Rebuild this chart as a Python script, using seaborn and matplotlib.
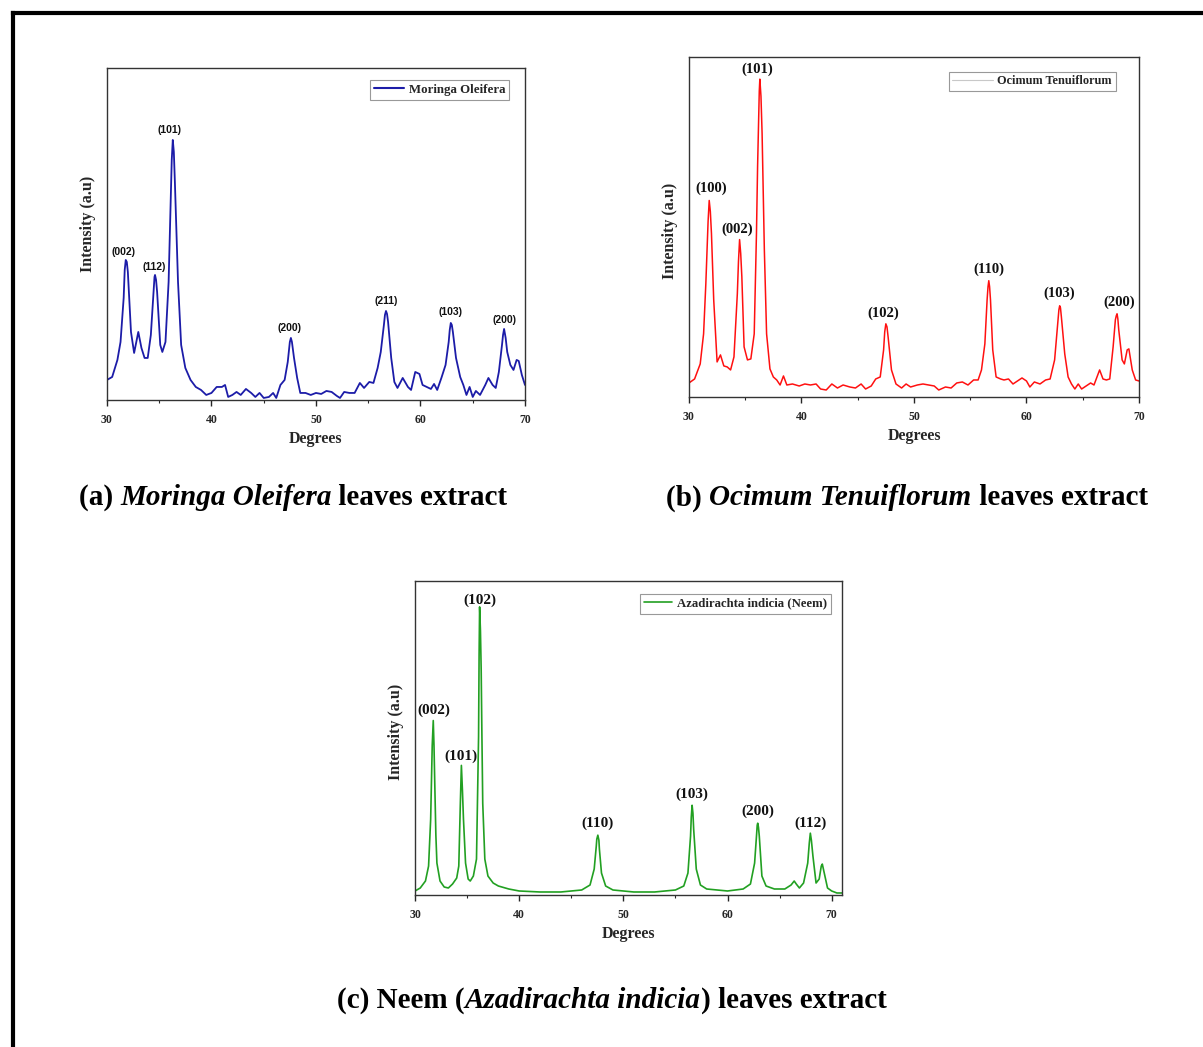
import matplotlib
matplotlib.use("Agg")
import matplotlib.pyplot as plt
import seaborn as sns
import pandas as pd
from matplotlib.lines import Line2D
from matplotlib.ticker import MultipleLocator

# ---- (a) Moringa Oleifera ----
mo_deg = [30.0, 30.5, 31.0, 31.3, 31.6, 31.7, 31.8, 31.9, 32.0, 32.3, 32.6, 33.0, 33.3, 33.6,
          33.9, 34.2, 34.5, 34.55, 34.6, 34.7, 34.8, 35.1, 35.3, 35.6, 35.9, 36.1, 36.2, 36.3,
          36.4, 36.5, 36.8, 37.1, 37.5, 38.0, 38.5, 39.0, 39.5, 40.0, 40.5, 41.0, 41.3, 41.6,
          42.0, 42.4, 42.8, 43.3, 43.8, 44.2, 44.6, 45.0, 45.5, 45.9, 46.2, 46.6, 47.0, 47.3,
          47.5, 47.6, 47.7, 47.9, 48.2, 48.5, 49.0, 49.5, 50.0, 50.5, 51.0, 51.5, 52.0, 52.3,
          52.7, 53.2, 53.7, 54.2, 54.6, 55.1, 55.5, 55.9, 56.2, 56.5, 56.6, 56.7, 56.8, 56.9,
          57.2, 57.5, 57.8, 58.3, 58.8, 59.1, 59.5, 59.9, 60.2, 60.6, 61.0, 61.3, 61.6, 62.0,
          62.4, 62.7, 62.8, 62.9, 63.0, 63.1, 63.4, 63.8, 64.1, 64.4, 64.7, 65.0, 65.3, 65.7,
          66.2, 66.5, 66.9, 67.2, 67.5, 67.8, 67.9, 68.0, 68.15, 68.3, 68.6, 68.9, 69.2, 69.4,
          69.7, 70.0]
mo_int = [20, 23, 40, 58, 102, 130, 140, 138, 128, 68, 47, 68, 52, 42,
          42, 65, 115, 123, 125, 120, 108, 55, 48, 58, 118, 202, 240, 260,
          248, 218, 118, 55, 32, 20, 13, 10, 5, 7, 13, 13, 15, 3,
          5, 8, 5, 11, 7, 3, 7, 2, 3, 7, 2, 15, 20, 38,
          58, 62, 58, 42, 22, 7, 7, 5, 7, 6, 9, 8, 4, 2,
          8, 7, 7, 17, 12, 18, 17, 32, 48, 75, 85, 89, 86, 78,
          42, 18, 12, 22, 13, 10, 28, 26, 15, 13, 11, 16, 10, 22,
          35, 58, 70, 77, 75, 68, 42, 23, 15, 5, 13, 3, 9, 5,
          15, 22, 15, 12, 28, 55, 65, 71, 62, 48, 35, 30, 40, 39,
          25, 15]
mo_peaks = ["(002)", "(112)", "(101)", "(200)", "(211)", "(103)", "(200)"]
mo_peak_deg = [31.6, 34.5, 36.0, 47.5, 56.7, 62.9, 68.0]
mo_peak_lab_y = [148, 133, 270, 72, 99, 88, 80]

# ---- (b) Ocimum Tenuiflorum ----
ot_deg = [30.0, 30.5, 31.0, 31.3, 31.5, 31.7, 31.8, 31.9, 32.0, 32.2, 32.5, 32.8, 33.1, 33.4,
          33.7, 34.0, 34.3, 34.4, 34.5, 34.6, 34.7, 34.9, 35.2, 35.5, 35.8, 36.0, 36.1, 36.2,
          36.25, 36.3, 36.4, 36.5, 36.6, 36.7, 36.9, 37.2, 37.5, 37.8, 38.1, 38.4, 38.7, 39.2,
          39.8, 40.3, 40.8, 41.3, 41.7, 42.2, 42.7, 43.2, 43.7, 44.3, 44.8, 45.3, 45.7, 46.2,
          46.6, 47.0, 47.3, 47.4, 47.5, 47.6, 47.7, 48.0, 48.4, 48.9, 49.3, 49.7, 50.3, 50.8,
          51.3, 51.8, 52.2, 52.8, 53.3, 53.8, 54.3, 54.8, 55.3, 55.7, 56.0, 56.3, 56.5, 56.58,
          56.65, 56.72, 56.8, 57.0, 57.3, 57.7, 58.0, 58.4, 58.8, 59.2, 59.6, 60.0, 60.3, 60.7,
          61.2, 61.7, 62.1, 62.5, 62.8, 62.88, 62.95, 63.02, 63.1, 63.4, 63.7, 64.0, 64.3, 64.6,
          64.9, 65.3, 65.7, 66.0, 66.3, 66.5, 66.8, 67.1, 67.4, 67.7, 67.9, 67.98, 68.05, 68.12,
          68.2, 68.5, 68.7, 68.95, 69.1, 69.4, 69.7, 70.0]
ot_int = [14, 18, 33, 63, 113, 175, 196, 185, 163, 97, 35, 42, 31, 30,
          27, 40, 103, 135, 157, 143, 120, 50, 37, 38, 63, 163, 230, 280,
          305, 317, 300, 263, 205, 147, 63, 28, 20, 17, 12, 21, 12, 13,
          11, 13, 12, 13, 8, 7, 13, 9, 12, 10, 9, 13, 8, 11,
          18, 20, 47, 65, 73, 70, 60, 27, 13, 9, 13, 10, 12, 13,
          12, 11, 7, 10, 9, 14, 15, 12, 17, 17, 27, 53, 97, 110,
          116, 110, 97, 47, 20, 18, 17, 18, 13, 16, 19, 16, 10, 15,
          13, 17, 18, 37, 77, 87, 91, 89, 80, 43, 20, 13, 8, 13,
          8, 11, 14, 12, 21, 27, 18, 17, 18, 50, 77, 81, 83, 78,
          67, 37, 33, 47, 48, 27, 17, 16]
ot_peaks = ["(100)", "(002)", "(101)", "(102)", "(110)", "(103)", "(200)"]
ot_peak_deg = [32.0, 34.3, 36.1, 47.3, 56.65, 62.95, 68.2]
ot_peak_lab_y = [208, 167, 327, 84, 127, 103, 94]

# ---- (c) Azadirachta indicia (Neem) ----
ne_deg = [30.0, 30.5, 31.0, 31.3, 31.5, 31.65, 31.75, 31.82, 31.9, 32.0, 32.1, 32.4, 32.8, 33.2,
          33.6, 34.0, 34.2, 34.35, 34.45, 34.55, 34.65, 34.85, 35.1, 35.3, 35.6, 35.9, 36.1, 36.15,
          36.2, 36.28, 36.35, 36.42, 36.5, 36.7, 37.0, 37.5, 38.0, 39.0, 40.0, 42.0, 44.0, 46.0,
          46.8, 47.2, 47.4, 47.45, 47.55, 47.65, 47.7, 47.9, 48.3, 49.0, 51.0, 53.0, 55.0, 55.8,
          56.2, 56.45, 56.52, 56.6, 56.68, 56.75, 57.0, 57.4, 58.0, 60.0, 61.5, 62.2, 62.6, 62.8,
          62.85, 62.9, 62.97, 63.05, 63.3, 63.7, 64.5, 65.5, 66.1, 66.4, 66.6, 66.9, 67.3, 67.7,
          67.85, 67.95, 68.05, 68.2, 68.5, 68.8, 69.0, 69.1, 69.35, 69.6, 70.0, 70.5, 71.0]
ne_int = [4, 7, 14, 29, 76, 150, 175, 150, 109, 60, 32, 14, 8, 7,
          11, 17, 29, 92, 130, 105, 76, 32, 16, 14, 19, 36, 159, 240,
          289, 265, 226, 160, 92, 36, 19, 12, 9, 6, 4, 3, 3, 5,
          10, 26, 49, 56, 60, 55, 46, 22, 9, 5, 3, 3, 5, 9,
          22, 59, 78, 90, 82, 66, 26, 10, 6, 4, 6, 11, 32, 62,
          70, 72, 68, 59, 19, 9, 6, 6, 10, 14, 11, 7, 12, 32,
          52, 62, 55, 39, 12, 16, 29, 31, 19, 7, 4, 2, 2]
ne_peaks = ["(002)", "(101)", "(102)", "(110)", "(103)", "(200)", "(112)"]
ne_peak_deg = [31.8, 34.4, 36.2, 47.55, 56.6, 62.9, 68.0]
ne_peak_lab_y = [185, 139, 296, 72, 101, 84, 72]

captions = [
    [("(a) ", "normal"), ("Moringa Oleifera", "italic"), (" leaves extract", "normal")],
    [("(b) ", "normal"), ("Ocimum Tenuiflorum", "italic"), (" leaves extract", "normal")],
    [("(c) Neem (", "normal"), ("Azadirachta indicia", "italic"), (") leaves extract", "normal")],
]

sns.set_style("white")
plt.rcParams["font.family"] = ["Liberation Serif", "DejaVu Serif"]

fig = plt.figure(figsize=(12.03, 10.47), dpi=100)

panels = [
    dict(rect=[0.0889, 0.6180, 0.3475, 0.3171], x=mo_deg, y=mo_int, color="#1c1ca8",
         name="Moringa Oleifera", ylim=332, xlim=70, lw=1.3, peaks=mo_peaks,
         pk_x=mo_peak_deg, pk_y=mo_peak_lab_y, pk_font="Liberation Sans", pk_size=7.5,
         leg_anchor=(0.9625, 0.964), leg_color="#1c1ca8", leg_lw=1.5, leg_size=9.3,
         hlen=2.3, ylab_y=0.53),
    dict(rect=[0.5727, 0.6208, 0.3741, 0.3247], x=ot_deg, y=ot_int, color="#ff1010",
         name="Ocimum Tenuiflorum", ylim=339, xlim=70, lw=1.1, peaks=ot_peaks,
         pk_x=ot_peak_deg, pk_y=ot_peak_lab_y, pk_font="Liberation Serif", pk_size=10.5,
         leg_anchor=(0.948, 0.957), leg_color="#c8c8c8", leg_lw=0.8, leg_size=8.8,
         hlen=3.3, ylab_y=0.49),
    dict(rect=[0.3450, 0.1452, 0.3550, 0.2999], x=ne_deg, y=ne_int, color="#22a022",
         name="Azadirachta indicia (Neem)", ylim=315, xlim=71, lw=1.2, peaks=ne_peaks,
         pk_x=ne_peak_deg, pk_y=ne_peak_lab_y, pk_font="Liberation Serif", pk_size=11,
         leg_anchor=(0.973, 0.959), leg_color="#22a022", leg_lw=1.2, leg_size=9.2,
         hlen=2.2, ylab_y=0.52),
]

for p in panels:
    ax = fig.add_axes(p["rect"])
    df = pd.DataFrame({"Degrees": p["x"], "Intensity": p["y"]})
    sns.lineplot(data=df, x="Degrees", y="Intensity", ax=ax, color=p["color"],
                 linewidth=p["lw"], legend=False)
    ax.set_xlim(30, p["xlim"])
    ax.set_ylim(0, p["ylim"])
    ax.set_yticks([])
    ax.xaxis.set_major_locator(MultipleLocator(10))
    ax.xaxis.set_minor_locator(MultipleLocator(5))
    ax.tick_params(axis="x", which="major", direction="out", length=4, width=1,
                   labelsize=8.5, bottom=True, pad=6)
    ax.tick_params(axis="x", which="minor", direction="out", length=2.5, width=0.8, bottom=True)
    for lab in ax.get_xticklabels():
        lab.set_fontweight("bold")
    for sp in ax.spines.values():
        sp.set_color("#333333")
        sp.set_linewidth(1.0)
    ax.set_xlabel("Degrees", fontsize=11.5, fontweight="bold", labelpad=4)
    ax.set_ylabel("Intensity (a.u)", fontsize=11.5, fontweight="bold", labelpad=8)
    ax.yaxis.label.set_y(p["ylab_y"])

    for lab, px, py in zip(p["peaks"], p["pk_x"], p["pk_y"]):
        ax.text(px, py, lab, ha="center", va="center", fontsize=p["pk_size"],
                fontweight="bold", family=p["pk_font"], color="#111111")

    handle = Line2D([], [], color=p["leg_color"], linewidth=p["leg_lw"])
    leg = ax.legend([handle], [p["name"]], loc="upper right", bbox_to_anchor=p["leg_anchor"],
                    borderaxespad=0, frameon=True, fancybox=False, framealpha=1,
                    edgecolor="#999999", handlelength=p["hlen"], handletextpad=0.4,
                    borderpad=0.3, prop={"family": "Liberation Serif", "weight": "bold",
                                         "size": p["leg_size"]})
    leg.get_frame().set_linewidth(0.8)

# captions with mixed bold / bold italic pieces
renderer = fig.canvas.get_renderer()
cap_pos = [(293 / 1203, 1 - 498 / 1047), (907 / 1203, 1 - 498 / 1047), (612 / 1203, 1 - 1000 / 1047)]
for parts, (cx, cy) in zip(captions, cap_pos):
    texts = []
    x = 0.0
    for s, style in parts:
        t = fig.text(x, cy, s, fontsize=21, fontweight="bold", fontstyle=style,
                     ha="left", va="center", color="black")
        bb = t.get_window_extent(renderer)
        texts.append(t)
        x += bb.width / fig.bbox.width
    shift = cx - x / 2
    pos = 0.0
    for t in texts:
        bb = t.get_window_extent(renderer)
        t.set_x(shift + pos)
        pos += bb.width / fig.bbox.width

# page border (top and left edges)
fig.add_artist(Line2D([13 / 1203, 1.0], [1 - 13 / 1047, 1 - 13 / 1047], color="black",
                      linewidth=3, transform=fig.transFigure, solid_capstyle="projecting"))
fig.add_artist(Line2D([13 / 1203, 13 / 1203], [0.0, 1 - 13 / 1047], color="black",
                      linewidth=3, transform=fig.transFigure, solid_capstyle="projecting"))

fig.savefig("out.png", dpi=100)
plt.close(fig)
